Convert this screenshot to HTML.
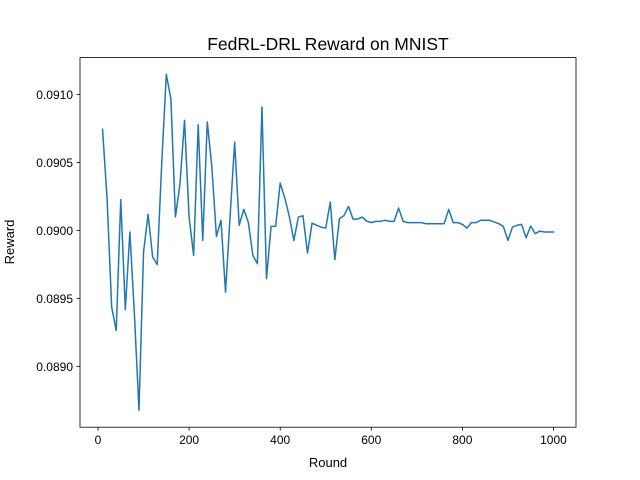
<!DOCTYPE html>
<html><head><meta charset="utf-8"><style>
body{margin:0;background:#fff;}
svg{display:block;font-family:"Liberation Sans","DejaVu Sans",sans-serif;}
</style></head><body>
<svg id="chart" width="640" height="480">
<rect width="640" height="480" fill="#fff"/>
<text x="328" y="50" text-anchor="middle" font-size="17.5">FedRL-DRL Reward on MNIST</text>
<g id="plot"></g>
<rect x="80" y="57.6" width="496" height="369.6" fill="none" stroke="#000" stroke-width="0.8"/>
<text x="328" y="467" text-anchor="middle" font-size="13">Round</text>
<text transform="translate(14,242) rotate(-90)" text-anchor="middle" font-size="13">Reward</text>
</svg>
<script>
const rounds = [];
for (let r = 10; r <= 1000; r += 10) rounds.push(r);
const rewards = [0.090743,0.09023,0.089436,0.089265,0.090226,0.089417,0.089988,0.08938,0.088676,0.08984,
0.090118,0.089804,0.089748,0.09050,0.091147,0.090968,0.090098,0.090343,0.090809,0.090098,
0.089816,0.090777,0.089926,0.090797,0.090466,0.089956,0.090074,0.089546,0.09010,0.090649,
0.090037,0.090154,0.090061,0.089816,0.089755,0.090907,0.089645,0.090029,0.090029,0.090348,
0.09024,0.090103,0.089926,0.090098,0.090108,0.089833,0.090054,0.090037,0.090024,0.090017,
0.090208,0.089784,0.090086,0.090108,0.090176,0.090083,0.090083,0.090098,0.090068,0.090057,
0.090066,0.090066,0.090074,0.090066,0.090066,0.090164,0.090066,0.090057,0.090057,0.090057,
0.090057,0.090049,0.090049,0.090049,0.090049,0.090049,0.090154,0.090057,0.090057,0.090044,
0.090017,0.090057,0.090057,0.090074,0.090074,0.090074,0.090061,0.090049,0.090029,0.089926,
0.090024,0.090037,0.090044,0.089946,0.090032,0.089975,0.089995,0.089988,0.089988,0.089988];
const xTicks = [0,200,400,600,800,1000];
const yTicks = [0.0890,0.0895,0.0900,0.0905,0.0910];
const yTickLabels = ["0.0890","0.0895","0.0900","0.0905","0.0910"];

const L=80,R=576,T=57.6,B=427.2;
const xmin0=Math.min(...rounds),xmax0=Math.max(...rounds);
const xm=(xmax0-xmin0)*0.05, xlo=xmin0-xm, xhi=xmax0+xm;
const ymin0=Math.min(...rewards),ymax0=Math.max(...rewards);
const ym=(ymax0-ymin0)*0.05, ylo=ymin0-ym, yhi=ymax0+ym;
const xs=v=>L+(v-xlo)/(xhi-xlo)*(R-L);
const ys=v=>B-(v-ylo)/(yhi-ylo)*(B-T);
const NS="http://www.w3.org/2000/svg";
const g=document.getElementById('plot');
function mk(t,a){const e=document.createElementNS(NS,t);for(const k in a)e.setAttribute(k,a[k]);return e;}
xTicks.forEach(v=>{
  const x=xs(v);
  const tk=mk('line',{x1:x,x2:x,y1:B,y2:B+3.5,stroke:'#000','stroke-width':0.8});
  
  
  g.appendChild(tk);
  const t=mk('text',{x:x,y:B+17,'text-anchor':'middle','font-size':'12'});
  t.textContent=String(v);
  
  
  g.appendChild(t);
});
yTicks.forEach((v,i)=>{
  const y=ys(v);
  const tk=mk('line',{x1:L-3.5,x2:L,y1:y,y2:y,stroke:'#000','stroke-width':0.8});
  
  
  g.appendChild(tk);
  const t=mk('text',{x:L-7,y:y+4.5,'text-anchor':'end','font-size':'12'});
  t.textContent=yTickLabels[i];
  
  
  g.appendChild(t);
});
const pts=rounds.map((r,i)=>xs(r).toFixed(2)+','+ys(rewards[i]).toFixed(2)).join(' ');
const line=mk('polyline',{points:pts,fill:'none',stroke:'#1f77b4','stroke-width':1.5,'stroke-linejoin':'round','stroke-linecap':'square'});


g.appendChild(line);
</script>
</body></html>
